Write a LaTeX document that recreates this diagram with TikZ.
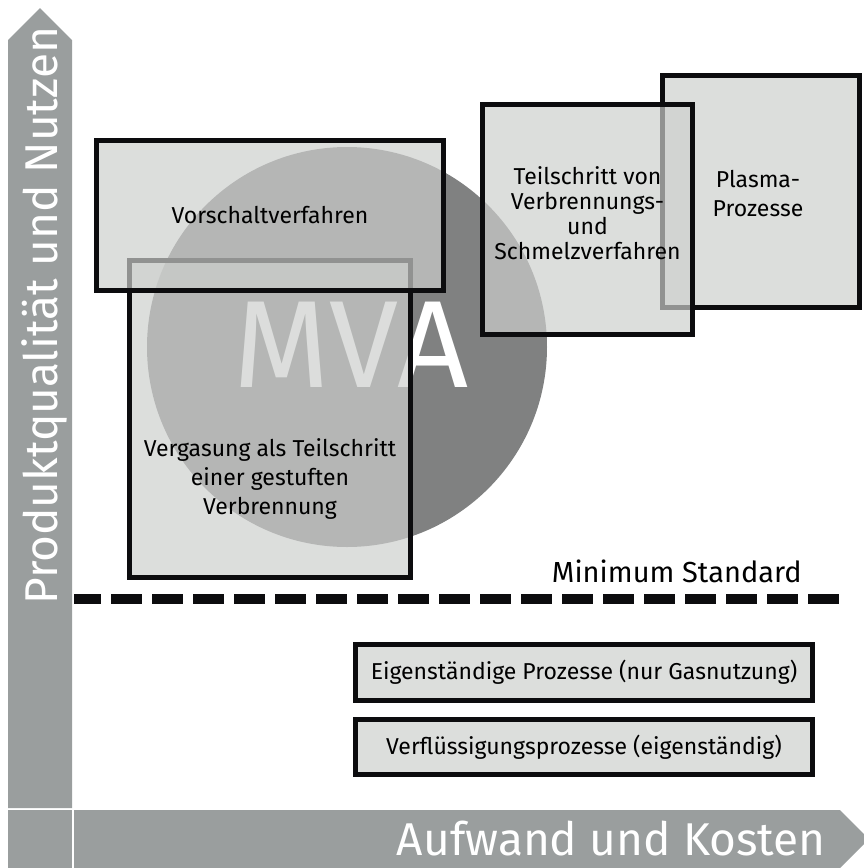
\documentclass[tikz,border=0pt]{standalone}
\usepackage{fontspec}
\setmainfont{Fira Sans}
\newfontfamily\lightfont{Fira Sans}
\usetikzlibrary{positioning}

\definecolor{axisgray}{RGB}{154,158,158}
\definecolor{mvagray}{RGB}{128,129,129}
\definecolor{boxgray}{RGB}{205,207,205}
\definecolor{edgeblack}{RGB}{12,12,14}

\begin{document}
\begin{tikzpicture}[x=1pt, y=-1pt,
    procbox/.style={draw=edgeblack, line width=5pt, fill=boxgray, fill opacity=0.69, inner sep=0pt},
    boxtext/.style={align=center, inner sep=0pt, text=black},
    axistext/.style={font=\lightfont\fontsize{46}{46}\selectfont, text=white, inner sep=0pt}]
    \useasboundingbox (0,0) rectangle (863,868);

    % axes
    \fill [axisgray] (8,808) -- (8,40) -- (40,8) -- (72,40) -- (72,808) -- cycle ;
    \fill [axisgray] (8,810) rectangle (72,868) ;
    \fill [axisgray] (74,810) -- (840,810) -- (869,839) -- (840,868) -- (74,868) -- cycle ;
    \node [axistext, rotate=90, anchor=base west] (ylabel) at (57,605) {Produktqualität und Nutzen} ;
    \node [axistext, anchor=base east] (xlabel) at (826,855) {Aufwand und Kosten} ;

    % MVA
    \node [circle, fill=mvagray, minimum size=400pt, inner sep=0pt] (mva) at (347,347) {} ;
    \node [font=\lightfont\fontsize{124}{124}\selectfont, text=white, anchor=base, inner sep=0pt] (mvatext) at (351,387) {MVA} ;

    % boxes over the circle
    \node [procbox, minimum width=281pt, minimum height=317pt] (vergasung) at (270,419) {} ;
    \node [boxtext, font=\fontsize{23}{29}\selectfont] (vergasungtext) at (270,479) {Vergasung als Teilschritt\\einer gestuften\\Verbrennung} ;

    \node [procbox, minimum width=347pt, minimum height=150pt] (vorschalt) at (270,215.5) {} ;
    \node [boxtext, font=\fontsize{23}{26}\selectfont] (vorschalttext) at (vorschalt) {Vorschaltverfahren} ;

    \node [procbox, minimum width=197pt, minimum height=232pt] (plasma) at (761,191.5) {} ;
    \node [boxtext, font=\fontsize{23}{29}\selectfont] (plasmatext) at (758,194) {Plasma-\\Prozesse} ;

    \node [procbox, minimum width=210pt, minimum height=230pt] (teilschritt) at (587.5,219.5) {} ;
    \node [boxtext, font=\fontsize{23}{25}\selectfont] (teilschritttext) at (587.5,213) {Teilschritt von\\Verbrennungs-\\und\\Schmelzverfahren} ;

    % minimum standard
    \coordinate (stdleft) at (74,599) ;
    \coordinate (stdright) at (839,599) ;
    \draw [edgeblack, line width=10pt, dash pattern=on 31pt off 10pt, dash phase=4pt] (stdleft) -- (stdright) ;
    \node [font=\lightfont\fontsize{29}{29}\selectfont, anchor=base east, inner sep=0pt] (stdtext) at (802,582) {Minimum Standard} ;

    % independent processes
    \node [procbox, minimum width=457pt, minimum height=56pt] (eigen) at (584,672.5) {} ;
    \node [boxtext, font=\fontsize{23}{26}\selectfont] (eigentext) at (eigen) {Eigenständige Prozesse (nur Gasnutzung)} ;
    \node [procbox, minimum width=457pt, minimum height=55pt] (verfl) at (584,747) {} ;
    \node [boxtext, font=\fontsize{23}{26}\selectfont] (verfltext) at (verfl) {Verflüssigungsprozesse (eigenständig)} ;
\end{tikzpicture}
\end{document}
